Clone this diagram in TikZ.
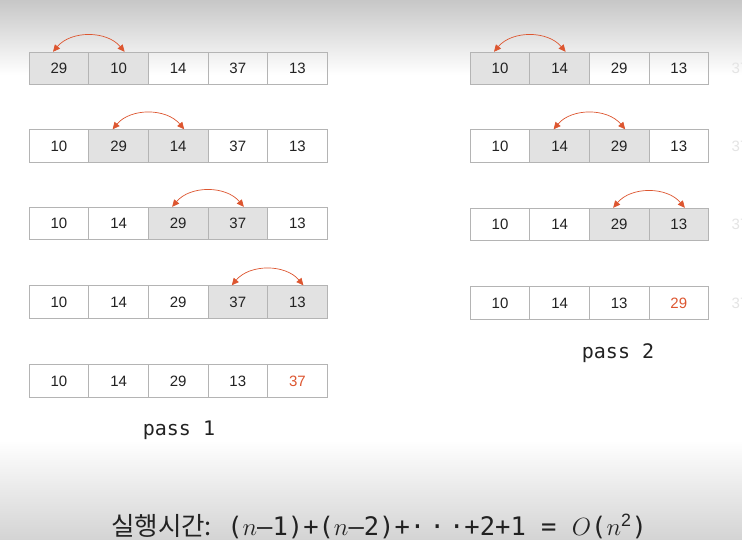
\documentclass[tikz,border=0pt]{standalone}
\usepackage{fontspec}
\setmainfont{Liberation Sans}
\newfontfamily\cellfont{Liberation Sans}
\newfontfamily\passfont{DejaVu Sans Mono}
\newfontfamily\krfont{Noto Sans CJK KR}
\usetikzlibrary{arrows.meta}
\definecolor{cellline}{HTML}{B4B4B4}
\definecolor{cellfill}{HTML}{E2E2E2}
\definecolor{hotred}{HTML}{DD5630}
\definecolor{numcol}{HTML}{222222}
\definecolor{fadecol}{HTML}{E4E4E4}
\tikzset{
  cell/.style={draw=cellline, line width=0.9pt, minimum width=59.6pt, minimum height=32.5pt, inner sep=0pt, font=\cellfont\fontsize{15}{15}\selectfont, text=numcol},
  hi/.style={cell, fill=cellfill},
  hot/.style={text=hotred},
  swaparc/.style={{Triangle[length=7pt,width=6.5pt]}-{Triangle[length=7pt,width=6.5pt]}, draw=hotred, line width=0.7pt, bend left=50},
  passlbl/.style={font=\passfont\fontsize{20}{20}\selectfont, text=numcol},
  fade/.style={font=\cellfont\fontsize{15}{15}\selectfont, text=fadecol}
}
\begin{document}
\begin{tikzpicture}[x=1pt,y=-1pt]
\clip (0,0) rectangle (742,540);
\fill[white] (0,0) rectangle (742,540);
\shade[top color=black!22, bottom color=white] (0,0) rectangle (742,75);
\shade[top color=white, bottom color=black!17] (0,440) rectangle (742,540);
% pass 1
% row 1
\node[hi] (a1) at (59,68.5) {29};
\node[hi] (a2) at (118.6,68.5) {10};
\node[cell] (a3) at (178.2,68.5) {14};
\node[cell] (a4) at (237.8,68.5) {37};
\node[cell] (a5) at (297.4,68.5) {13};
\draw[swaparc] ([xshift=-6pt]a1.north) to ([xshift=6pt]a2.north);
% row 2
\node[cell] (b1) at (59,146) {10};
\node[hi] (b2) at (118.6,146) {29};
\node[hi] (b3) at (178.2,146) {14};
\node[cell] (b4) at (237.8,146) {37};
\node[cell] (b5) at (297.4,146) {13};
\draw[swaparc] ([xshift=-6pt]b2.north) to ([xshift=6pt]b3.north);
% row 3
\node[cell] (c1) at (59,223.5) {10};
\node[cell] (c2) at (118.6,223.5) {14};
\node[hi] (c3) at (178.2,223.5) {29};
\node[hi] (c4) at (237.8,223.5) {37};
\node[cell] (c5) at (297.4,223.5) {13};
\draw[swaparc] ([xshift=-6pt]c3.north) to ([xshift=6pt]c4.north);
% row 4
\node[cell] (d1) at (59,302) {10};
\node[cell] (d2) at (118.6,302) {14};
\node[cell] (d3) at (178.2,302) {29};
\node[hi] (d4) at (237.8,302) {37};
\node[hi] (d5) at (297.4,302) {13};
\draw[swaparc] ([xshift=-6pt]d4.north) to ([xshift=6pt]d5.north);
% row 5
\node[cell] (e1) at (59,381) {10};
\node[cell] (e2) at (118.6,381) {14};
\node[cell] (e3) at (178.2,381) {29};
\node[cell] (e4) at (237.8,381) {13};
\node[cell,hot] (e5) at (297.4,381) {37};
\node[passlbl] (p1) at (179,430) {pass 1};
% pass 2
\node[hi] (f1) at (500,68.5) {10};
\node[hi] (f2) at (559.6,68.5) {14};
\node[cell] (f3) at (619.2,68.5) {29};
\node[cell] (f4) at (678.8,68.5) {13};
\node[fade] (f5) at (740,68.5) {37};
\draw[swaparc] ([xshift=-6pt]f1.north) to ([xshift=6pt]f2.north);
\node[cell] (g1) at (500,146) {10};
\node[hi] (g2) at (559.6,146) {14};
\node[hi] (g3) at (619.2,146) {29};
\node[cell] (g4) at (678.8,146) {13};
\node[fade] (g5) at (740,146) {37};
\draw[swaparc] ([xshift=-6pt]g2.north) to ([xshift=6pt]g3.north);
\node[cell] (h1) at (500,224.5) {10};
\node[cell] (h2) at (559.6,224.5) {14};
\node[hi] (h3) at (619.2,224.5) {29};
\node[hi] (h4) at (678.8,224.5) {13};
\node[fade] (h5) at (740,224.5) {37};
\draw[swaparc] ([xshift=-6pt]h3.north) to ([xshift=6pt]h4.north);
\node[cell] (i1) at (500,303) {10};
\node[cell] (i2) at (559.6,303) {14};
\node[cell] (i3) at (619.2,303) {13};
\node[cell,hot] (i4) at (678.8,303) {29};
\node[fade] (i5) at (740,303) {37};
\node[passlbl] (p2) at (618,353) {pass 2};
% running time
\node[text=numcol, font=\passfont\fontsize{25.5}{25.5}\selectfont, inner sep=0pt] (rt) at (379,526)
  {{\krfont 실행시간:}\hspace{0.6em}($n$–1)+($n$–2)+·\,·\,·+2+1 = $O$($n^{\mathrm{2}}$)};
\end{tikzpicture}
\end{document}
